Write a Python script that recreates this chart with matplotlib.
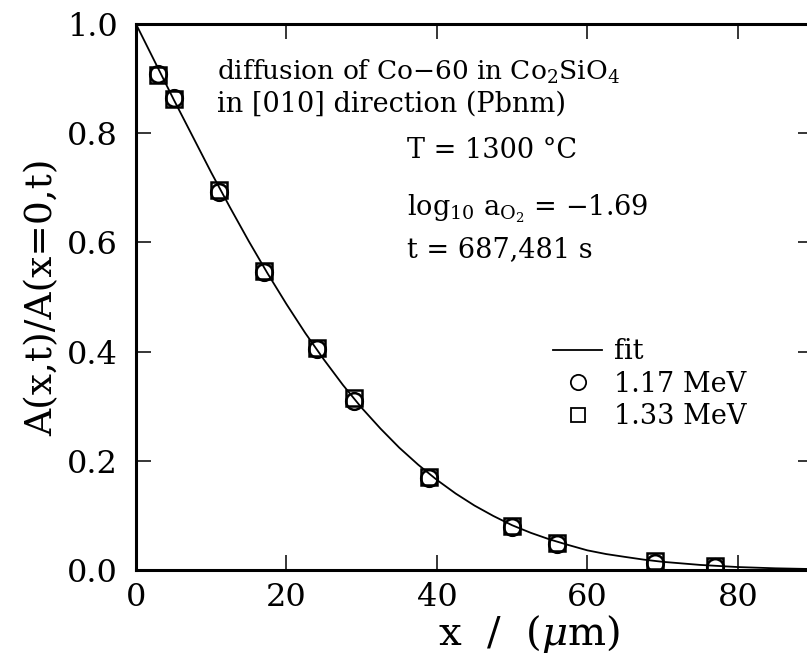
import matplotlib
matplotlib.use("Agg")
import matplotlib.pyplot as plt
from matplotlib.lines import Line2D

plt.rcParams['font.family'] = ['DejaVu Serif']
plt.rcParams['mathtext.fontset'] = 'dejavuserif'

# measured points (depth in um, normalised activity)
x_117 = [2.9, 5.0, 11.0, 17.0, 24.0, 29.0, 39.0, 50.0, 56.0, 69.0, 77.0]
y_117 = [0.909, 0.864, 0.693, 0.546, 0.405, 0.309, 0.168, 0.079, 0.047, 0.013, 0.006]
x_133 = [2.9, 5.0, 11.0, 17.0, 24.0, 29.0, 39.0, 50.0, 56.0, 69.0, 77.0]
y_133 = [0.907, 0.862, 0.696, 0.548, 0.407, 0.315, 0.170, 0.081, 0.049, 0.016, 0.008]

# fit curve
x_fit = [0, 2.5, 5, 7.5, 10, 12.5, 15, 17.5, 20, 22.5, 25, 27.5, 30, 32.5, 35,
         37.5, 40, 42.5, 45, 47.5, 50, 52.5, 55, 57.5, 60, 62.5, 65, 67.5, 70,
         75, 80, 85, 90]
y_fit = [1.0, 0.931, 0.862, 0.795, 0.728, 0.664, 0.602, 0.543, 0.487, 0.434, 0.385,
         0.339, 0.297, 0.259, 0.224, 0.193, 0.165, 0.140, 0.118, 0.099, 0.082,
         0.068, 0.056, 0.0457, 0.036, 0.0292, 0.024, 0.019, 0.015,
         0.0093, 0.0054, 0.0031, 0.0017]

fig = plt.figure(figsize=(8.07, 6.62), dpi=100)
ax = fig.add_axes([136/807, 1 - 570/662, 677/807, 546/662])

ax.plot(x_fit, y_fit, color='black', lw=1.3)
ax.plot(x_117, y_117, 'o', ms=12, mfc='none', mec='black', mew=1.8)
ax.plot(x_133, y_133, 's', ms=11, mfc='none', mec='black', mew=1.8)

ax.set_xlim(0, 90)
ax.set_ylim(0, 1.0)
ax.set_xticks([0, 20, 40, 60, 80])
ax.set_yticks([0.0, 0.2, 0.4, 0.6, 0.8, 1.0])
ax.set_yticklabels(['0.0', '0.2', '0.4', '0.6', '0.8', '1.0'])
ax.tick_params(direction='in', length=11, width=1.1, top=True, right=True,
               labelsize=23)
ax.tick_params(axis='x', pad=9)
ax.tick_params(axis='y', pad=13)
for s in ax.spines.values():
    s.set_linewidth(2.2)

ax.set_xlabel(r'x  /  ($\mu$m)', fontsize=29)
ax.xaxis.set_label_coords(0.58, -0.078)
ax.set_ylabel('A(x,t)/A(x=0,t)', fontsize=27, labelpad=5)

fs = 19.5
ax.text(10.8, 0.912, r'diffusion of Co$-$60 in Co$_2$SiO$_4$', fontsize=19, va='center')
ax.text(10.8, 0.854, 'in [010] direction (Pbnm)', fontsize=fs, va='center')
ax.text(36.0, 0.769, 'T = 1300 °C', fontsize=fs, va='center')
ax.text(36.0, 0.662, r'log$_{10}$ a$_{\mathrm{O}_2}$ = $-$1.69', fontsize=fs, va='center')
ax.text(36.0, 0.586, 't = 687,481 s', fontsize=fs, va='center')

handles = [Line2D([], [], color='black', lw=1.3),
           Line2D([], [], marker='o', ls='none', ms=11, mfc='none', mec='black', mew=1.3),
           Line2D([], [], marker='s', ls='none', ms=10, mfc='none', mec='black', mew=1.3)]
ax.legend(handles, ['fit', '1.17 MeV', '1.33 MeV'], loc='upper left',
          bbox_to_anchor=(0.5806, 0.469), frameon=False, fontsize=fs,
          handlelength=1.8, handletextpad=0.45, labelspacing=0.2)

fig.savefig('out.png', dpi=100)
